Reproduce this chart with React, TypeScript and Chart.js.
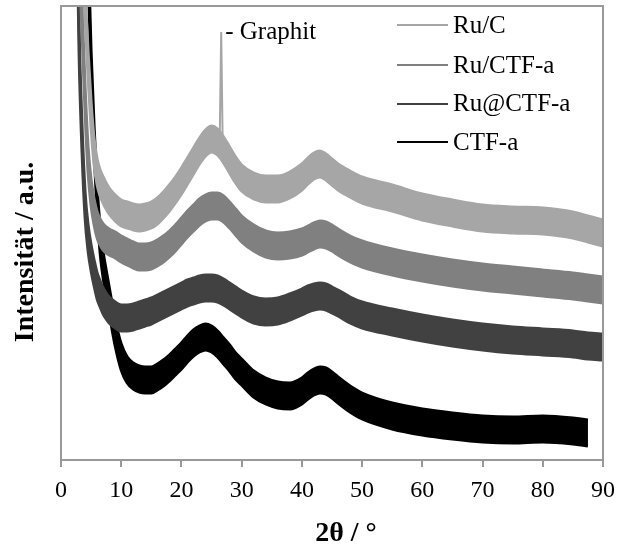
import React, { useEffect, useRef } from "react";
import { Chart, registerables } from "chart.js";

Chart.register(...registerables);

const twoTheta = [
  2.5, 3, 3.5, 4, 4.5, 5, 5.5, 6, 6.5, 7, 7.5, 8, 9, 10, 11, 12, 13, 14, 15, 16,
  17, 18, 19, 20, 21, 22, 23, 24, 25, 26, 27, 28, 29, 30, 32, 34, 36, 38, 40, 41,
  42, 43, 44, 45, 46, 48, 50, 55, 60, 65, 70, 75, 80, 85, 87.5, 90,
];

// Intensities (a.u., stacked/offset as in the original figure)
const ruC = [
  710, 630, 520, 455, 395, 345, 308, 288, 277, 270, 264, 259, 252, 247, 245, 243, 242, 243, 245, 249,
  255, 262, 270, 279, 289, 299, 309, 317, 321, 318, 310, 300, 290, 282, 274, 271, 271, 275, 283, 289,
  294, 296, 293, 288, 283, 276, 270, 262, 253, 247, 242, 240, 239, 235, 231, 227,
];
const ruCTFa = [
  660, 520, 440, 360, 300, 267, 248, 235, 228, 223, 220, 218, 215, 211, 208, 205, 203, 203, 204, 207,
  211, 216, 222, 229, 236, 242, 248, 252, 254, 254, 251, 245, 238, 231, 222, 216, 214, 215, 218, 221,
  224, 226, 225, 222, 218, 211, 206, 198, 192, 187, 183, 180, 177, 174, 172, 170,
];
const ruAtCTFa = [
  610, 420, 320, 255, 222, 202, 187, 174, 166, 159, 154, 150, 145, 142, 142, 143, 145, 147, 149, 152,
  155, 158, 161, 164, 167, 169, 171, 172, 172, 171, 168, 164, 160, 156, 150, 148, 149, 153, 158, 161,
  163, 164, 163, 160, 157, 150, 145, 138, 132, 127, 123, 120, 118, 116, 114, 113,
];
const ctfA = [
  860, 790, 710, 620, 500, 395, 320, 260, 220, 195, 177, 160, 127, 103, 90, 84, 81, 80, 80, 83,
  87, 92, 98, 104, 111, 117, 121, 123, 121, 116, 109, 102, 94, 88, 76, 69, 65, 64, 69, 74,
  78, 80, 79, 75, 70, 61, 54, 44, 38, 34, 31, 30, 31, 29, 27, null,
];

// half-width of the noise band of each pattern (a.u.)
const noiseHalfWidth = [13, 13, 13, 13];

const seriesNames = ["Ru/C", "Ru/CTF-a", "Ru@CTF-a", "CTF-a"];
const seriesValues = [ruC, ruCTFa, ruAtCTFa, ctfA];
const seriesColors = ["#a6a6a6", "#808080", "#414141", "#000000"];

// sharp graphite reflection in Ru/C
const graphitTheta = [26.35, 26.6, 26.85];
const graphitIntensity = [318, 428, 316];
const graphitLabel = "- Graphit";

const xTickValues = [0, 10, 20, 30, 40, 50, 60, 70, 80, 90];
const xTitle = "2θ / °";
const yTitle = "Intensität / a.u.";

const FONT = '"Liberation Serif", "Times New Roman", serif';

export default function App() {
  const canvasRef = useRef<HTMLCanvasElement | null>(null);

  useEffect(() => {
    const canvas = canvasRef.current;
    if (!canvas) return;

    const datasets: any[] = [];
    // draw CTF-a on top: Chart.js paints dataset 0 last
    for (let i = seriesValues.length - 1; i >= 0; i--) {
      const vals = seriesValues[i];
      const hw = noiseHalfWidth[i];
      const upper: { x: number; y: number }[] = [];
      const lower: { x: number; y: number }[] = [];
      twoTheta.forEach((t, k) => {
        const v = vals[k];
        if (v === null || v === undefined) return;
        upper.push({ x: t, y: v + hw });
        lower.push({ x: t, y: v - hw });
      });
      datasets.unshift({
        label: seriesNames[i] + " (lower)",
        data: lower,
        borderColor: seriesColors[i],
        backgroundColor: seriesColors[i],
        borderWidth: 3,
        pointRadius: 0,
        cubicInterpolationMode: "monotone",
        fill: "-1",
      });
      datasets.unshift({
        label: seriesNames[i],
        data: upper,
        borderColor: seriesColors[i],
        backgroundColor: seriesColors[i],
        borderWidth: 3,
        pointRadius: 0,
        cubicInterpolationMode: "monotone",
        fill: false,
      });
    }
    datasets.push({
      label: "Graphit",
      data: graphitTheta.map((t, k) => ({ x: t, y: graphitIntensity[k] })),
      borderColor: seriesColors[0],
      borderWidth: 2,
      pointRadius: 0,
      tension: 0,
      fill: false,
    });

    const overlay = {
      id: "overlay",
      afterDraw(chart: any) {
        const { ctx, chartArea, scales } = chart;
        ctx.save();
        ctx.setTransform(1, 0, 0, 1, 0, 0);
        ctx.setLineDash([]);
        // frame (top / right)
        ctx.strokeStyle = "#999999";
        ctx.lineWidth = 2;
        ctx.beginPath();
        ctx.moveTo(chartArea.left, chartArea.top);
        ctx.lineTo(chartArea.right, chartArea.top);
        ctx.lineTo(chartArea.right, chartArea.bottom);
        ctx.stroke();

        // legend
        const legendY = [25, 65, 103.5, 142];
        ctx.font = `25px ${FONT}`;
        ctx.textBaseline = "middle";
        ctx.textAlign = "left";
        seriesNames.forEach((name, i) => {
          ctx.fillStyle = seriesColors[i];
          ctx.fillRect(397, Math.round(legendY[i]) - 1, 51, 2);
          ctx.fillStyle = "#000";
          ctx.fillText(name, 453, legendY[i] + 1);
        });

        // graphite annotation
        const gx = scales.x.getPixelForValue(graphitTheta[1]);
        const gy = scales.y.getPixelForValue(graphitIntensity[1]);
        ctx.textBaseline = "alphabetic";
        ctx.fillText(graphitLabel, gx + 4, gy + 7);

        // axis titles
        ctx.font = `bold 28px ${FONT}`;
        ctx.textAlign = "center";
        ctx.textBaseline = "alphabetic";
        ctx.fillText(xTitle, 346, 541);
        ctx.translate(33, 252);
        ctx.rotate(-Math.PI / 2);
        ctx.fillText(yTitle, 0, 0);
        ctx.restore();
      },
    };

    const chart = new Chart(canvas, {
      type: "line",
      data: { datasets },
      plugins: [overlay],
      options: {
        animation: false,
        responsive: false,
        maintainAspectRatio: false,
        devicePixelRatio: 1,
        layout: { padding: { top: 6, right: 15, left: 0, bottom: 0 } },
        plugins: {
          legend: { display: false },
          tooltip: { enabled: false },
          filler: { propagate: false },
        },
        scales: {
          x: {
            type: "linear",
            min: 0,
            max: 90,
            afterFit: (s: any) => {
              s.height = 92;
              s.paddingLeft = 0;
              s.paddingRight = 0;
            },
            afterBuildTicks: (s: any) => {
              s.ticks = xTickValues.map((v) => ({ value: v }));
            },
            ticks: {
              color: "#000",
              padding: 9,
              font: { family: FONT, size: 24 },
              maxRotation: 0,
            },
            grid: {
              display: true,
              drawOnChartArea: false,
              drawTicks: true,
              tickLength: 7,
              color: "#999999",
              lineWidth: 2,
            },
            border: { display: true, color: "#999999", width: 2 },
            title: { display: false, text: xTitle },
          },
          y: {
            type: "linear",
            min: 0,
            max: 454,
            afterFit: (s: any) => {
              s.width = 61;
            },
            ticks: { display: false },
            grid: { display: false, drawTicks: false },
            border: { display: true, color: "#999999", width: 2 },
            title: { display: false, text: yTitle },
          },
        },
      },
    });

    return () => {
      chart.destroy();
    };
  }, []);

  return (
    <div style={{ position: "absolute", left: 0, top: 0, width: 618, height: 552, background: "#fff" }}>
      <canvas ref={canvasRef} width={618} height={552} style={{ width: 618, height: 552, display: "block" }} />
    </div>
  );
}
